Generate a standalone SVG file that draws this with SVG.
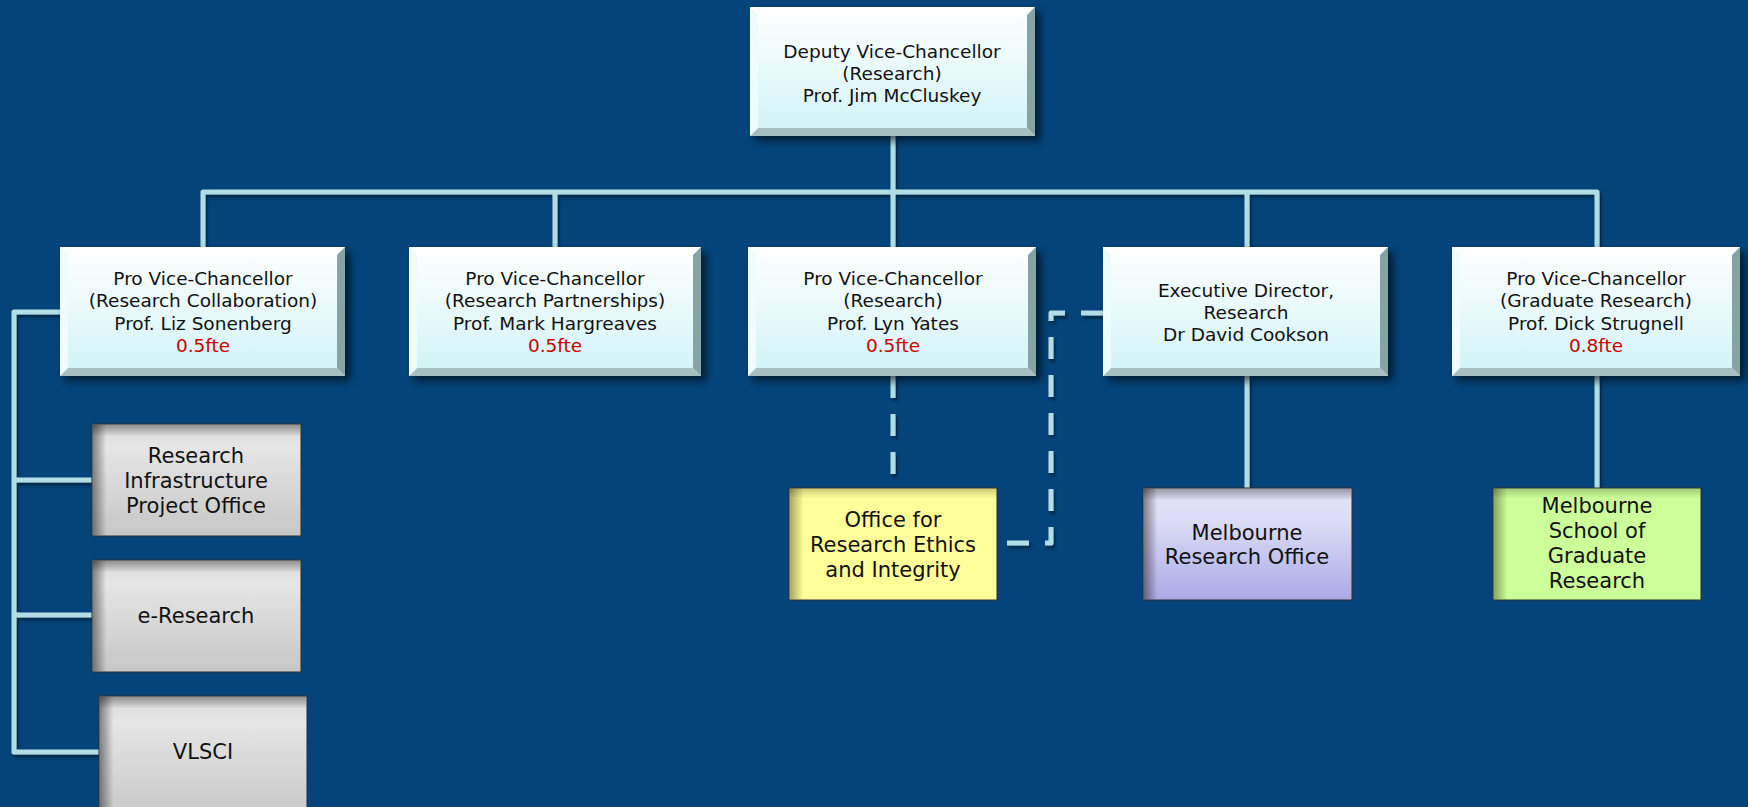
<svg xmlns="http://www.w3.org/2000/svg" width="1748" height="807" viewBox="0 0 1748 807">
<defs>
<linearGradient id="face" x1="0" y1="0" x2="0" y2="1"><stop offset="0" stop-color="#ffffff"/><stop offset="1" stop-color="#d0f4f7"/></linearGradient>
<linearGradient id="gray" x1="0" y1="0" x2="0" y2="1"><stop offset="0" stop-color="#d8d8d8"/><stop offset="0.2" stop-color="#e6e6e6"/><stop offset="1" stop-color="#c6c6c6"/></linearGradient>
<linearGradient id="purple" x1="0" y1="0" x2="0" y2="1"><stop offset="0" stop-color="#e4e4f8"/><stop offset="0.3" stop-color="#dcdcf6"/><stop offset="1" stop-color="#a9a9e6"/></linearGradient>
<linearGradient id="ishL" x1="0" y1="0" x2="1" y2="0"><stop offset="0" stop-color="#000" stop-opacity="0.45"/><stop offset="1" stop-color="#000" stop-opacity="0"/></linearGradient>
<linearGradient id="ishT" x1="0" y1="0" x2="0" y2="1"><stop offset="0" stop-color="#000" stop-opacity="0.35"/><stop offset="1" stop-color="#000" stop-opacity="0"/></linearGradient>
<filter id="drop" x="-10%" y="-10%" width="125%" height="130%"><feDropShadow dx="5" dy="5" stdDeviation="4" flood-color="#000" flood-opacity="0.6"/></filter>
<filter id="lsh" x="-5%" y="-5%" width="110%" height="110%"><feDropShadow dx="2" dy="3" stdDeviation="1.5" flood-color="#001a33" flood-opacity="0.7"/></filter>
</defs>
<style>
.bg{fill:#04447a}
.face{fill:url(#face)}
.bt{fill:#ffffff;opacity:0.85}
.br{fill:#86a3a6}
.bb{fill:#a6bfc1}
.bl{fill:#eefcfd}
.ln{fill:none;stroke:#b2dde4;stroke-width:5;stroke-linejoin:round;stroke-linecap:butt}
.dash{stroke-dasharray:22 16}
.t{font-family:"DejaVu Sans","Verdana",sans-serif;font-size:18.5px;fill:#111;text-anchor:middle}
.r{fill:#cc0000}
.t2{font-family:"DejaVu Sans","Verdana",sans-serif;font-size:21px;fill:#111;text-anchor:middle}
.edge{stroke:#2a2a2a;stroke-width:1}
.ish-l{fill:url(#ishL)}
.ish-t{fill:url(#ishT)}
</style>
<rect class="bg" x="0" y="0" width="1748" height="807"/>

<g id="connectors" filter="url(#lsh)">
<path class="ln" d="M893,136 V192"/>
<path class="ln" d="M203,247 V192 H1597 V247"/>
<path class="ln" d="M555,192 V247"/>
<path class="ln" d="M893,192 V247"/>
<path class="ln" d="M1247,192 V247"/>
<path class="ln" d="M60,312 H14 V752 H99"/>
<path class="ln" d="M14,480 H92"/>
<path class="ln" d="M14,615 H92"/>
<path class="ln dash" d="M893,376 V488"/>
<path class="ln dash" d="M1103,313 H1051 V543 H997"/>
<path class="ln" d="M1247,376 V488"/>
<path class="ln" d="M1597,376 V488"/>
</g>

<g id="dvc">
<g filter="url(#drop)"><rect class="face" x="750" y="7" width="285" height="129"/></g>
<polygon class="bt" points="750,7 1035,7 1027,15 758,15"/>
<polygon class="br" points="1035,7 1035,136 1027,128 1027,15"/>
<polygon class="bb" points="750,136 1035,136 1027,128 758,128"/>
<polygon class="bl" points="750,7 758,15 758,128 750,136"/>
<text class="t" x="892" y="58">Deputy Vice-Chancellor</text>
<text class="t" x="892" y="80">(Research)</text>
<text class="t" x="892" y="102">Prof. Jim McCluskey</text>
</g>

<g id="pvc-collab">
<g filter="url(#drop)"><rect class="face" x="60" y="247" width="285" height="129"/></g>
<polygon class="bt" points="60,247 345,247 337,255 68,255"/>
<polygon class="br" points="345,247 345,376 337,368 337,255"/>
<polygon class="bb" points="60,376 345,376 337,368 68,368"/>
<polygon class="bl" points="60,247 68,255 68,368 60,376"/>
<text class="t" x="203" y="285">Pro Vice-Chancellor</text>
<text class="t" x="203" y="307">(Research Collaboration)</text>
<text class="t" x="203" y="330">Prof. Liz Sonenberg</text>
<text class="t r" x="203" y="352">0.5fte</text>
</g>

<g id="pvc-partner">
<g filter="url(#drop)"><rect class="face" x="409" y="247" width="292" height="129"/></g>
<polygon class="bt" points="409,247 701,247 693,255 417,255"/>
<polygon class="br" points="701,247 701,376 693,368 693,255"/>
<polygon class="bb" points="409,376 701,376 693,368 417,368"/>
<polygon class="bl" points="409,247 417,255 417,368 409,376"/>
<text class="t" x="555" y="285">Pro Vice-Chancellor</text>
<text class="t" x="555" y="307">(Research Partnerships)</text>
<text class="t" x="555" y="330">Prof. Mark Hargreaves</text>
<text class="t r" x="555" y="352">0.5fte</text>
</g>

<g id="pvc-research">
<g filter="url(#drop)"><rect class="face" x="748" y="247" width="288" height="129"/></g>
<polygon class="bt" points="748,247 1036,247 1028,255 756,255"/>
<polygon class="br" points="1036,247 1036,376 1028,368 1028,255"/>
<polygon class="bb" points="748,376 1036,376 1028,368 756,368"/>
<polygon class="bl" points="748,247 756,255 756,368 748,376"/>
<text class="t" x="893" y="285">Pro Vice-Chancellor</text>
<text class="t" x="893" y="307">(Research)</text>
<text class="t" x="893" y="330">Prof. Lyn Yates</text>
<text class="t r" x="893" y="352">0.5fte</text>
</g>

<g id="exec-dir">
<g filter="url(#drop)"><rect class="face" x="1103" y="247" width="285" height="129"/></g>
<polygon class="bt" points="1103,247 1388,247 1380,255 1111,255"/>
<polygon class="br" points="1388,247 1388,376 1380,368 1380,255"/>
<polygon class="bb" points="1103,376 1388,376 1380,368 1111,368"/>
<polygon class="bl" points="1103,247 1111,255 1111,368 1103,376"/>
<text class="t" x="1246" y="297">Executive Director,</text>
<text class="t" x="1246" y="319">Research</text>
<text class="t" x="1246" y="341">Dr David Cookson</text>
</g>

<g id="pvc-grad">
<g filter="url(#drop)"><rect class="face" x="1452" y="247" width="288" height="129"/></g>
<polygon class="bt" points="1452,247 1740,247 1732,255 1460,255"/>
<polygon class="br" points="1740,247 1740,376 1732,368 1732,255"/>
<polygon class="bb" points="1452,376 1740,376 1732,368 1460,368"/>
<polygon class="bl" points="1452,247 1460,255 1460,368 1452,376"/>
<text class="t" x="1596" y="285">Pro Vice-Chancellor</text>
<text class="t" x="1596" y="307">(Graduate Research)</text>
<text class="t" x="1596" y="330">Prof. Dick Strugnell</text>
<text class="t r" x="1596" y="352">0.8fte</text>
</g>

<g id="ripo">
<rect class="edge" x="92" y="424" width="209" height="112" fill="url(#gray)"/>
<rect class="ish-l" x="92.5" y="424.5" width="14" height="111"/>
<rect class="ish-t" x="92.5" y="424.5" width="208" height="12"/>
<text class="t2" x="196" y="463">Research</text>
<text class="t2" x="196" y="488">Infrastructure</text>
<text class="t2" x="196" y="513">Project Office</text>
</g>

<g id="e-research">
<rect class="edge" x="92" y="560" width="209" height="112" fill="url(#gray)"/>
<rect class="ish-l" x="92.5" y="560.5" width="14" height="111"/>
<rect class="ish-t" x="92.5" y="560.5" width="208" height="12"/>
<text class="t2" x="196" y="623">e-Research</text>
</g>

<g id="vlsci">
<rect class="edge" x="99" y="696" width="208" height="125" fill="url(#gray)"/>
<rect class="ish-l" x="99.5" y="696.5" width="14" height="124"/>
<rect class="ish-t" x="99.5" y="696.5" width="207" height="12"/>
<text class="t2" x="203" y="759">VLSCI</text>
</g>

<g id="ethics">
<rect class="edge" x="789" y="488" width="208" height="112" fill="#ffff99"/>
<rect class="ish-l" x="789.5" y="488.5" width="14" height="111" opacity="0.8"/>
<rect class="ish-t" x="789.5" y="488.5" width="207" height="10" opacity="0.6"/>
<text class="t2" x="893" y="527">Office for</text>
<text class="t2" x="893" y="552">Research Ethics</text>
<text class="t2" x="893" y="577">and Integrity</text>
</g>

<g id="mro">
<rect class="edge" x="1143" y="488" width="209" height="112" fill="url(#purple)"/>
<rect class="ish-l" x="1143.5" y="488.5" width="14" height="111"/>
<rect class="ish-t" x="1143.5" y="488.5" width="208" height="12"/>
<text class="t2" x="1247" y="540">Melbourne</text>
<text class="t2" x="1247" y="564">Research Office</text>
</g>

<g id="msgr">
<rect class="edge" x="1493" y="488" width="208" height="112" fill="#ccff99"/>
<rect class="ish-l" x="1493.5" y="488.5" width="14" height="111" opacity="0.8"/>
<rect class="ish-t" x="1493.5" y="488.5" width="207" height="10" opacity="0.6"/>
<text class="t2" x="1597" y="513">Melbourne</text>
<text class="t2" x="1597" y="538">School of</text>
<text class="t2" x="1597" y="563">Graduate</text>
<text class="t2" x="1597" y="588">Research</text>
</g>
</svg>
